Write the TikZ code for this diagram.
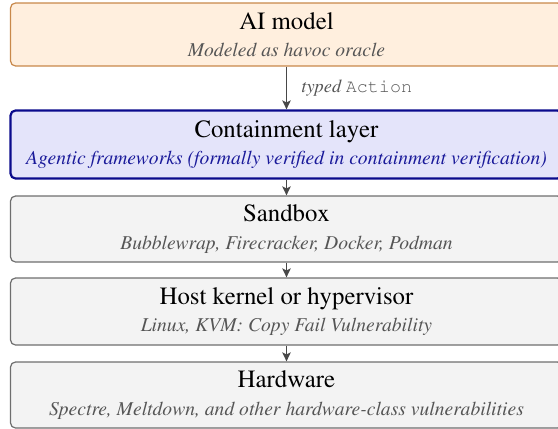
\documentclass[tikz,border=0pt]{standalone}
\usepackage[T1]{fontenc}
\usepackage{times}
\usetikzlibrary{arrows.meta}
\definecolor{aifill}{HTML}{FFEFDE}
\definecolor{aidraw}{HTML}{C8884A}
\definecolor{ctfill}{HTML}{E4E4FA}
\definecolor{ctdraw}{HTML}{0A0A8C}
\definecolor{cttext}{HTML}{1A1A9A}
\definecolor{lyfill}{HTML}{F3F3F3}
\definecolor{lydraw}{HTML}{6E6E6E}
\definecolor{subgray}{HTML}{555555}
\definecolor{arrgray}{HTML}{484848}
\newcommand{\ttlfont}{\fontsize{12.4}{14}\selectfont}
\newcommand{\subfont}{\fontsize{9.8}{11}\selectfont\itshape}
\tikzset{
  layerbox/.style={rectangle, rounded corners=2.5pt, minimum width=276pt, align=center,
    inner sep=0pt, font=\fontsize{9.8}{13.6}\selectfont, line width=0.6pt,
    draw=lydraw, fill=lyfill},
  flowarrow/.style={draw=arrgray, line width=0.9pt, -{Stealth[length=4.5pt,width=4.2pt,inset=1pt]}},
  arrlabel/.style={anchor=west, inner sep=0pt, text=subgray, font=\fontsize{9.2}{11}\selectfont}
}
\begin{document}
\begin{tikzpicture}[x=0.5pt,y=-0.5pt]
\useasboundingbox (0,0) rectangle (558,429);
\clip (0,0) rectangle (558,429);
\node[layerbox, draw=aidraw, fill=aifill, minimum height=31.5pt] (ai) at (286.5,34.5)
  {{\ttlfont AI model}\\{\subfont\color{subgray} Modeled as havoc oracle}};
\node[layerbox, draw=ctdraw, fill=ctfill, line width=1.1pt, minimum height=34pt] (ct) at (286.5,144.5)
  {{\ttlfont Containment layer}\\{\subfont\color{cttext} Agentic frameworks (formally verified in containment verification)}};
\node[layerbox, minimum height=33pt] (sb) at (286.5,229)
  {{\ttlfont Sandbox}\\{\subfont\color{subgray} Bubblewrap, Firecracker, Docker, Podman}};
\node[layerbox, minimum height=33.5pt] (hk) at (286.5,311.5)
  {{\ttlfont Host kernel or hypervisor}\\{\subfont\color{subgray} Linux, KVM: Copy Fail Vulnerability}};
\node[layerbox, minimum height=33pt] (hw) at (286.5,395)
  {{\ttlfont Hardware}\\{\subfont\color{subgray} Spectre, Meltdown, and other hardware-class vulnerabilities}};
\draw[flowarrow] (ai) -- node[arrlabel, xshift=7pt] (lbl) {\itshape typed \upshape\ttfamily Action} (ct);
\draw[flowarrow] (ct) -- (sb);
\draw[flowarrow] (sb) -- (hk);
\draw[flowarrow] (hk) -- (hw);
\end{tikzpicture}
\end{document}
